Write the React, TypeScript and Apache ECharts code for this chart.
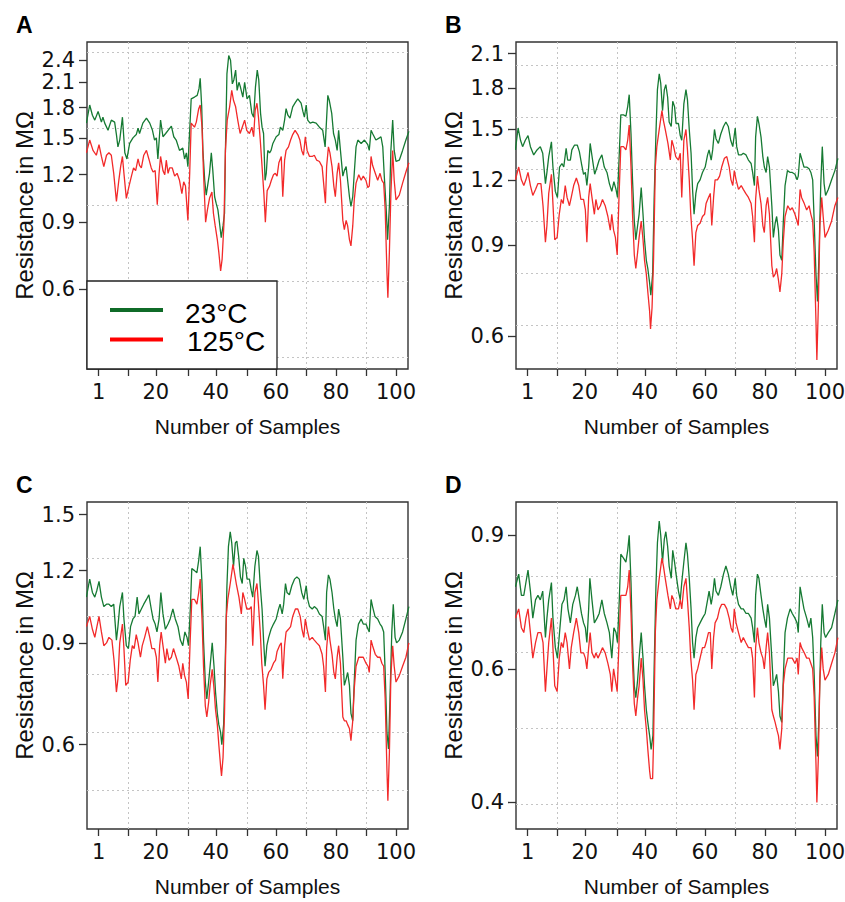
import React, { useEffect, useRef } from "react";
import * as echarts from "echarts";

// ---------- data (sample number, resistance in MΩ) ----------
const aGreen: [number, number][] = [[-3.1,1.64],[-2.0,1.83],[-1.1,1.72],[-0.3,1.67],[0.8,1.76],[1.9,1.65],[2.4,1.70],[3.0,1.64],[4.1,1.57],[5.2,1.67],[6.3,1.65],[6.9,1.53],[7.4,1.42],[8.0,1.48],[8.9,1.70],[9.7,1.37],[10.4,1.32],[11.3,1.45],[12.4,1.50],[13.5,1.53],[14.1,1.59],[14.6,1.54],[15.7,1.64],[16.9,1.69],[18.0,1.64],[18.9,1.57],[19.6,1.48],[20.2,1.50],[20.7,1.32],[21.6,1.67],[22.4,1.51],[23.3,1.54],[24.1,1.57],[25.2,1.61],[26.0,1.51],[26.8,1.48],[27.9,1.39],[29.0,1.41],[29.6,1.32],[30.2,1.37],[30.7,1.26],[31.3,1.57],[31.8,1.90],[32.9,1.92],[33.8,1.94],[34.4,2.02],[34.8,2.15],[35.3,1.81],[35.7,1.39],[36.3,1.16],[36.8,1.06],[37.4,1.14],[37.9,1.21],[38.5,1.37],[39.0,1.23],[39.6,1.05],[40.1,1.01],[40.7,0.97],[41.2,0.90],[41.8,0.82],[42.4,0.88],[42.9,0.95],[43.2,1.39],[43.7,2.21],[44.3,2.47],[44.9,2.40],[45.5,2.08],[46.0,2.13],[46.6,2.26],[47.1,2.00],[47.7,2.10],[48.2,2.04],[49.0,1.92],[49.6,2.10],[50.4,1.90],[51.2,1.94],[52.0,1.74],[52.6,1.70],[53.2,2.04],[53.8,2.26],[54.3,2.13],[54.9,1.74],[55.4,1.60],[55.9,1.54],[56.4,1.16],[56.8,1.21],[57.3,1.39],[57.9,1.37],[58.4,1.39],[59.0,1.45],[60.1,1.51],[61.0,1.53],[61.5,1.60],[62.3,1.57],[62.9,1.67],[63.4,1.79],[64.0,1.72],[64.7,1.69],[65.6,1.81],[66.5,1.86],[67.3,1.90],[68.4,1.85],[69.0,1.76],[69.5,1.70],[70.1,1.83],[70.6,1.67],[71.4,1.64],[72.3,1.65],[73.4,1.64],[74.5,1.60],[75.6,1.57],[76.4,1.42],[77.3,1.94],[77.8,1.88],[78.6,1.74],[79.2,1.54],[79.8,1.48],[80.4,1.39],[80.9,1.57],[81.5,1.39],[82.3,1.19],[82.8,1.23],[83.4,1.26],[83.9,1.16],[84.5,1.05],[85.0,0.99],[85.6,1.05],[86.1,1.21],[86.7,1.42],[87.3,1.48],[88.4,1.45],[89.5,1.48],[90.6,1.44],[91.1,1.39],[91.7,1.57],[92.2,1.54],[93.3,1.48],[94.5,1.50],[95.0,1.51],[95.6,1.42],[96.1,1.19],[96.7,0.99],[97.2,0.81],[97.8,0.99],[98.3,1.39],[98.9,1.67],[99.4,1.39],[100.0,1.30],[101.1,1.31],[102.2,1.39],[103.3,1.48],[104.3,1.56]];
const aRed: [number, number][] = [[-3.1,1.37],[-2.0,1.48],[-0.9,1.39],[0.2,1.35],[1.1,1.44],[1.9,1.34],[2.7,1.26],[3.6,1.35],[4.4,1.37],[5.2,1.35],[6.0,1.21],[6.9,1.02],[7.7,1.16],[8.3,1.26],[8.9,1.34],[9.4,1.21],[10.2,1.04],[11.1,1.12],[11.9,1.19],[12.6,1.25],[13.3,1.23],[14.1,1.32],[14.6,1.27],[15.2,1.25],[16.0,1.35],[16.9,1.39],[17.7,1.32],[18.5,1.25],[19.1,1.22],[19.8,1.23],[20.5,1.00],[21.1,1.21],[21.6,1.34],[22.4,1.23],[23.0,1.20],[23.5,1.31],[24.1,1.21],[24.6,1.25],[25.5,1.25],[26.3,1.19],[27.1,1.21],[27.9,1.16],[28.7,1.07],[29.3,1.15],[29.9,1.12],[30.7,0.91],[31.3,1.21],[31.8,1.64],[32.9,1.60],[33.5,1.65],[34.3,1.79],[34.8,1.83],[35.4,1.60],[35.9,1.21],[36.6,0.90],[37.2,0.97],[37.9,1.04],[38.7,1.08],[39.2,0.95],[39.8,0.88],[40.5,0.81],[41.0,0.75],[41.6,0.67],[42.1,0.72],[42.7,0.89],[43.2,1.39],[43.8,1.67],[44.6,1.81],[45.3,2.00],[45.9,1.88],[46.6,1.81],[47.3,1.67],[48.1,1.54],[48.8,1.60],[49.6,1.67],[50.3,1.57],[51.2,1.54],[52.0,1.60],[52.6,1.51],[53.1,1.77],[53.7,1.85],[54.2,1.70],[54.8,1.48],[55.4,1.26],[56.0,1.07],[56.5,0.90],[57.1,1.09],[57.9,1.12],[58.5,1.16],[59.2,1.20],[59.8,1.21],[60.4,1.19],[61.0,1.29],[61.8,1.34],[62.3,1.05],[62.9,1.31],[63.4,1.39],[64.2,1.42],[64.9,1.48],[65.6,1.53],[66.4,1.57],[67.3,1.53],[68.0,1.48],[68.6,1.39],[69.2,1.35],[69.8,1.51],[70.4,1.39],[71.2,1.34],[72.1,1.34],[72.8,1.35],[73.6,1.31],[74.5,1.30],[75.4,1.26],[75.9,1.14],[76.5,1.01],[76.9,1.26],[77.5,1.42],[78.0,1.37],[78.7,1.26],[79.3,1.12],[79.8,1.05],[80.4,1.21],[80.9,1.29],[81.5,1.16],[82.3,0.91],[82.8,0.86],[83.4,0.91],[83.9,0.88],[84.5,0.81],[85.0,0.78],[85.6,0.88],[86.1,1.03],[86.7,1.14],[87.6,1.20],[88.4,1.16],[89.1,1.19],[90.0,1.16],[90.6,1.11],[91.1,1.12],[91.7,1.34],[92.2,1.27],[93.1,1.21],[93.9,1.16],[94.7,1.21],[95.3,1.16],[95.9,1.14],[96.4,0.97],[97.0,0.66],[97.3,0.57],[97.8,0.75],[98.3,1.07],[98.9,1.39],[99.4,1.16],[100.0,1.03],[101.1,1.06],[102.2,1.14],[103.3,1.22],[104.3,1.29]];

const bGreen: [number, number][] = [[-3.1,1.37],[-2.2,1.51],[-1.4,1.43],[-0.7,1.39],[0.2,1.43],[1.1,1.46],[1.9,1.39],[3.0,1.34],[4.1,1.37],[5.2,1.39],[6.0,1.35],[6.9,1.18],[7.4,1.24],[8.0,1.33],[8.9,1.42],[9.4,1.27],[10.2,1.14],[10.9,1.11],[11.6,1.27],[12.4,1.29],[13.0,1.27],[13.8,1.38],[14.3,1.31],[15.2,1.31],[15.7,1.37],[16.6,1.40],[17.5,1.40],[18.2,1.36],[18.9,1.29],[19.6,1.23],[20.2,1.24],[20.7,1.17],[21.3,1.27],[21.8,1.41],[22.6,1.31],[23.3,1.23],[24.1,1.27],[24.8,1.31],[25.7,1.34],[26.5,1.27],[27.4,1.24],[28.2,1.18],[29.0,1.14],[29.7,1.19],[30.4,1.15],[30.9,1.11],[31.5,1.35],[32.0,1.60],[32.9,1.60],[33.7,1.59],[34.3,1.66],[34.8,1.75],[35.4,1.47],[35.9,1.20],[36.5,1.00],[37.0,0.92],[37.6,0.98],[38.1,1.03],[38.8,1.16],[39.4,1.03],[39.9,0.92],[40.5,0.84],[41.0,0.81],[41.6,0.76],[42.0,0.72],[42.6,0.79],[43.1,1.10],[43.7,1.47],[44.2,1.79],[44.8,1.92],[45.3,1.84],[45.9,1.63],[46.5,1.79],[47.0,1.83],[47.6,1.73],[48.1,1.55],[48.8,1.52],[49.3,1.70],[49.9,1.66],[50.4,1.54],[51.2,1.54],[51.8,1.46],[52.3,1.43],[53.0,1.68],[53.7,1.79],[54.2,1.71],[54.8,1.50],[55.4,1.35],[55.9,1.15],[56.4,1.03],[57.0,1.13],[57.6,1.18],[58.4,1.20],[59.2,1.24],[60.1,1.27],[60.9,1.34],[61.4,1.37],[62.1,1.31],[62.6,1.37],[63.2,1.50],[63.7,1.44],[64.5,1.41],[65.3,1.47],[66.2,1.52],[67.0,1.55],[67.8,1.52],[68.6,1.43],[69.3,1.39],[70.1,1.51],[70.6,1.39],[71.2,1.34],[72.1,1.34],[72.8,1.35],[73.7,1.34],[74.5,1.31],[75.4,1.29],[75.9,1.24],[76.5,1.17],[76.9,1.45],[77.5,1.59],[78.0,1.54],[78.7,1.45],[79.3,1.33],[79.8,1.27],[80.4,1.24],[80.9,1.33],[81.5,1.27],[82.3,1.07],[82.8,0.93],[83.4,0.99],[83.9,1.02],[84.5,0.96],[85.0,0.86],[85.6,0.84],[86.1,0.99],[86.7,1.17],[87.5,1.25],[88.4,1.24],[89.1,1.24],[90.0,1.23],[90.7,1.20],[91.1,1.22],[91.7,1.35],[92.2,1.32],[93.0,1.27],[93.9,1.27],[94.7,1.26],[95.3,1.24],[95.9,1.20],[96.4,1.00],[97.0,0.79],[97.5,0.70],[98.0,0.86],[98.6,1.18],[99.1,1.39],[99.7,1.18],[100.2,1.12],[101.1,1.15],[102.2,1.20],[103.3,1.25],[104.3,1.32]];
const bRed: [number, number][] = [[-3.1,1.20],[-2.0,1.27],[-1.1,1.20],[-0.3,1.17],[0.4,1.20],[1.1,1.24],[1.9,1.17],[2.7,1.12],[3.6,1.15],[4.4,1.18],[5.4,1.18],[6.1,1.07],[6.9,0.91],[7.4,0.98],[8.0,1.13],[8.9,1.23],[9.4,1.08],[10.0,0.92],[10.8,0.93],[11.5,1.03],[12.2,1.10],[12.8,1.08],[13.5,1.17],[14.1,1.11],[14.9,1.07],[15.5,1.11],[16.3,1.17],[17.2,1.21],[18.0,1.17],[18.7,1.10],[19.6,1.10],[20.2,1.05],[20.7,0.91],[21.3,1.11],[21.8,1.18],[22.4,1.11],[23.2,1.03],[23.7,1.10],[24.4,1.05],[25.2,1.07],[25.9,1.10],[26.8,1.07],[27.7,1.02],[28.5,0.96],[29.0,1.03],[29.6,0.96],[30.2,0.93],[30.8,0.86],[31.4,1.11],[32.0,1.39],[32.9,1.39],[33.7,1.37],[34.3,1.43],[34.8,1.53],[35.4,1.27],[35.9,1.03],[36.5,0.86],[37.0,0.81],[37.6,0.87],[38.1,0.93],[38.8,1.00],[39.4,0.92],[39.9,0.84],[40.5,0.79],[41.0,0.73],[41.6,0.67],[41.9,0.62],[42.4,0.68],[42.9,0.84],[43.5,1.27],[44.0,1.39],[44.8,1.50],[45.7,1.63],[46.2,1.56],[46.8,1.50],[47.7,1.41],[48.5,1.31],[49.0,1.43],[49.6,1.39],[50.3,1.33],[51.2,1.31],[51.8,1.35],[52.3,1.11],[53.0,1.43],[53.7,1.50],[54.2,1.37],[54.8,1.20],[55.3,1.03],[55.9,0.92],[56.4,0.82],[57.0,0.95],[57.6,0.98],[58.4,0.99],[59.2,1.02],[59.9,1.03],[60.4,1.08],[61.2,1.11],[61.8,1.13],[62.3,0.98],[62.9,1.11],[63.4,1.20],[64.2,1.20],[64.9,1.22],[65.6,1.27],[66.5,1.32],[67.3,1.33],[68.1,1.27],[68.7,1.20],[69.3,1.17],[69.8,1.25],[70.4,1.20],[71.2,1.15],[72.1,1.17],[72.8,1.15],[73.6,1.13],[74.5,1.11],[75.4,1.08],[75.9,1.02],[76.5,0.91],[76.9,1.10],[77.5,1.22],[78.0,1.15],[78.7,1.08],[79.3,0.98],[79.8,0.95],[80.4,1.07],[80.9,1.11],[81.5,1.03],[82.3,0.82],[82.8,0.78],[83.4,0.79],[83.9,0.81],[84.5,0.77],[85.0,0.73],[85.6,0.79],[86.1,0.91],[86.7,1.02],[87.6,1.07],[88.4,1.05],[89.1,1.06],[90.0,1.03],[90.7,1.00],[91.1,0.98],[91.7,1.15],[92.2,1.11],[93.1,1.08],[93.9,1.05],[94.7,1.07],[95.3,1.03],[95.9,1.00],[96.4,0.87],[97.0,0.64],[97.3,0.54],[97.8,0.69],[98.3,0.98],[98.9,1.11],[99.4,1.02],[100.0,0.93],[101.1,0.96],[102.2,1.00],[103.3,1.07],[104.3,1.11]];

const cGreen: [number, number][] = [[-3.1,1.08],[-2.0,1.16],[-1.1,1.10],[-0.3,1.08],[0.4,1.11],[1.1,1.15],[1.9,1.08],[2.7,1.04],[3.6,1.05],[4.4,1.05],[5.2,1.04],[6.0,1.05],[6.9,0.91],[7.4,0.96],[8.0,1.04],[8.9,1.10],[9.4,0.99],[10.2,0.89],[10.9,0.88],[11.6,0.96],[12.4,0.99],[13.1,1.00],[13.8,1.08],[14.4,1.01],[15.2,1.03],[16.0,1.05],[16.9,1.07],[17.7,1.09],[18.5,1.03],[19.1,0.99],[19.8,0.97],[20.4,0.94],[21.1,0.99],[21.7,1.10],[22.4,1.01],[23.2,0.95],[24.1,0.97],[24.8,0.99],[25.7,1.03],[26.5,0.99],[27.4,0.96],[28.2,0.91],[29.0,0.89],[29.7,0.94],[30.4,0.92],[30.9,0.89],[31.5,1.03],[32.0,1.21],[32.9,1.20],[33.7,1.19],[34.3,1.25],[34.8,1.32],[35.4,1.14],[35.9,0.91],[36.5,0.77],[37.0,0.72],[37.6,0.77],[38.1,0.82],[38.8,0.90],[39.4,0.82],[39.9,0.74],[40.5,0.68],[41.0,0.65],[41.6,0.63],[42.0,0.60],[42.6,0.65],[43.1,0.82],[43.7,1.13],[44.2,1.32],[44.8,1.40],[45.3,1.34],[45.9,1.22],[46.5,1.34],[47.0,1.35],[47.6,1.27],[48.2,1.17],[48.8,1.14],[49.3,1.26],[49.9,1.22],[50.4,1.16],[51.2,1.16],[51.8,1.11],[52.3,1.08],[53.0,1.22],[53.7,1.30],[54.2,1.27],[54.8,1.13],[55.4,1.03],[55.9,0.91],[56.4,0.82],[57.0,0.89],[57.6,0.92],[58.4,0.95],[59.2,0.97],[60.1,0.99],[60.9,1.03],[61.4,1.05],[62.1,1.01],[62.6,1.05],[63.2,1.14],[63.7,1.10],[64.5,1.09],[65.3,1.13],[66.2,1.16],[67.0,1.17],[67.8,1.16],[68.6,1.10],[69.3,1.07],[70.1,1.13],[70.6,1.07],[71.2,1.04],[72.1,1.03],[72.8,1.04],[73.7,1.03],[74.5,1.01],[75.4,1.00],[75.9,0.96],[76.5,0.91],[76.9,1.10],[77.5,1.18],[78.0,1.16],[78.7,1.10],[79.3,1.03],[79.8,0.99],[80.4,0.96],[80.9,1.03],[81.5,0.99],[82.3,0.85],[82.8,0.76],[83.4,0.78],[83.9,0.80],[84.5,0.76],[85.0,0.68],[85.6,0.66],[86.1,0.77],[86.7,0.91],[87.5,0.97],[88.4,0.99],[89.1,0.97],[90.0,0.97],[90.7,0.95],[91.1,0.94],[91.7,1.07],[92.2,1.04],[93.0,1.00],[93.9,0.99],[94.7,0.97],[95.3,0.96],[95.9,0.94],[96.4,0.80],[97.0,0.63],[97.5,0.59],[98.0,0.72],[98.6,0.94],[99.1,1.05],[99.7,0.92],[100.2,0.90],[101.1,0.91],[102.2,0.94],[103.3,0.99],[104.3,1.04]];
const cRed: [number, number][] = [[-3.1,0.96],[-2.0,1.00],[-1.1,0.95],[-0.3,0.92],[0.4,0.96],[1.1,1.00],[1.9,0.94],[2.7,0.89],[3.6,0.90],[4.4,0.92],[5.4,0.91],[6.1,0.84],[6.9,0.74],[7.4,0.78],[8.0,0.90],[8.9,0.97],[9.4,0.88],[10.0,0.76],[10.8,0.77],[11.5,0.84],[12.2,0.89],[12.8,0.88],[13.5,0.93],[14.1,0.90],[14.9,0.85],[15.5,0.89],[16.3,0.92],[17.2,0.96],[18.0,0.92],[18.7,0.88],[19.6,0.88],[20.2,0.85],[20.7,0.77],[21.3,0.89],[21.8,0.94],[22.4,0.89],[23.2,0.83],[23.7,0.88],[24.4,0.84],[25.2,0.85],[25.9,0.88],[26.8,0.85],[27.7,0.82],[28.5,0.78],[29.0,0.83],[29.6,0.79],[30.2,0.77],[30.8,0.72],[31.4,0.89],[32.0,1.07],[32.9,1.07],[33.7,1.05],[34.3,1.10],[34.8,1.16],[35.4,0.99],[35.9,0.82],[36.5,0.70],[37.0,0.67],[37.6,0.71],[38.1,0.76],[38.8,0.81],[39.4,0.75],[39.9,0.69],[40.5,0.65],[41.0,0.60],[41.6,0.55],[41.9,0.53],[42.4,0.57],[42.9,0.68],[43.5,1.00],[44.0,1.07],[44.8,1.14],[45.7,1.23],[46.2,1.19],[46.8,1.14],[47.7,1.08],[48.5,1.01],[49.0,1.10],[49.6,1.07],[50.3,1.03],[51.2,1.03],[51.8,1.04],[52.3,0.89],[53.0,1.10],[53.7,1.14],[54.2,1.05],[54.8,0.94],[55.3,0.83],[55.9,0.76],[56.4,0.69],[57.0,0.78],[57.6,0.80],[58.4,0.81],[59.2,0.83],[59.9,0.84],[60.4,0.87],[61.2,0.89],[61.8,0.90],[62.3,0.78],[62.9,0.89],[63.4,0.94],[64.2,0.95],[64.9,0.96],[65.6,1.00],[66.5,1.03],[67.3,1.03],[68.1,1.00],[68.7,0.95],[69.3,0.92],[69.8,0.99],[70.4,0.95],[71.2,0.91],[72.1,0.92],[72.8,0.91],[73.6,0.90],[74.5,0.89],[75.4,0.86],[75.9,0.82],[76.5,0.74],[76.9,0.88],[77.5,0.96],[78.0,0.91],[78.7,0.86],[79.3,0.80],[79.8,0.78],[80.4,0.85],[80.9,0.89],[81.5,0.83],[82.3,0.67],[82.8,0.66],[83.4,0.66],[83.9,0.65],[84.5,0.64],[85.0,0.61],[85.6,0.66],[86.1,0.75],[86.7,0.82],[87.6,0.85],[88.4,0.85],[89.1,0.85],[90.0,0.83],[90.7,0.82],[91.1,0.80],[91.7,0.91],[92.2,0.89],[93.1,0.86],[93.9,0.85],[94.7,0.85],[95.3,0.83],[95.9,0.82],[96.4,0.72],[97.0,0.54],[97.3,0.48],[97.8,0.58],[98.3,0.79],[98.9,0.89],[99.4,0.82],[100.0,0.77],[101.1,0.79],[102.2,0.82],[103.3,0.85],[104.3,0.90]];

const dGreen: [number, number][] = [[-3.1,0.77],[-2.0,0.80],[-1.1,0.75],[-0.3,0.75],[0.4,0.78],[1.1,0.81],[1.9,0.76],[2.7,0.70],[3.6,0.74],[4.4,0.75],[5.2,0.74],[6.0,0.76],[6.9,0.66],[7.4,0.70],[8.0,0.74],[8.9,0.78],[9.4,0.70],[10.2,0.64],[10.9,0.62],[11.6,0.67],[12.4,0.73],[13.1,0.74],[13.8,0.77],[14.4,0.72],[15.2,0.69],[16.0,0.73],[16.9,0.75],[17.5,0.77],[18.2,0.74],[18.9,0.71],[19.6,0.69],[20.2,0.68],[20.7,0.65],[21.3,0.72],[21.7,0.79],[22.4,0.74],[23.2,0.69],[24.1,0.70],[24.8,0.71],[25.7,0.74],[26.5,0.71],[27.4,0.69],[28.2,0.67],[29.0,0.62],[29.7,0.68],[30.4,0.67],[30.9,0.65],[31.5,0.74],[32.0,0.85],[32.9,0.84],[33.7,0.83],[34.3,0.86],[34.8,0.90],[35.4,0.78],[35.9,0.65],[36.5,0.57],[37.0,0.55],[37.6,0.58],[38.1,0.62],[38.8,0.67],[39.4,0.62],[39.9,0.57],[40.5,0.53],[41.0,0.51],[41.6,0.49],[42.1,0.47],[42.7,0.49],[43.1,0.60],[43.7,0.77],[44.2,0.88],[44.8,0.94],[45.3,0.90],[45.9,0.83],[46.5,0.89],[47.0,0.91],[47.6,0.87],[48.1,0.82],[48.8,0.79],[49.3,0.86],[49.9,0.83],[50.4,0.80],[51.2,0.76],[51.8,0.74],[52.3,0.78],[53.0,0.83],[53.7,0.88],[54.2,0.85],[54.8,0.79],[55.4,0.72],[55.9,0.65],[56.4,0.62],[57.0,0.66],[57.6,0.68],[58.4,0.69],[59.2,0.70],[60.1,0.71],[60.9,0.74],[61.4,0.76],[62.1,0.73],[62.6,0.75],[63.2,0.79],[63.7,0.76],[64.5,0.75],[65.3,0.77],[66.2,0.80],[67.0,0.82],[67.8,0.80],[68.6,0.77],[69.3,0.75],[70.1,0.79],[70.6,0.75],[71.2,0.73],[72.1,0.72],[72.8,0.72],[73.7,0.71],[74.5,0.71],[75.4,0.70],[75.9,0.68],[76.5,0.65],[76.9,0.75],[77.5,0.80],[78.0,0.79],[78.7,0.75],[79.3,0.72],[79.8,0.70],[80.4,0.68],[80.9,0.73],[81.5,0.70],[82.3,0.62],[82.8,0.57],[83.4,0.58],[83.9,0.59],[84.5,0.56],[85.0,0.52],[85.6,0.51],[86.1,0.58],[86.7,0.67],[87.5,0.70],[88.4,0.72],[89.1,0.71],[90.0,0.70],[90.7,0.69],[91.1,0.67],[91.7,0.77],[92.2,0.75],[93.0,0.72],[93.9,0.70],[94.7,0.68],[95.3,0.70],[95.9,0.66],[96.4,0.59],[97.0,0.49],[97.5,0.46],[98.0,0.52],[98.6,0.65],[99.1,0.73],[99.7,0.67],[100.2,0.66],[101.1,0.67],[102.2,0.68],[103.3,0.71],[104.3,0.74]];
const dRed: [number, number][] = [[-3.1,0.70],[-2.0,0.72],[-1.1,0.68],[-0.3,0.67],[0.4,0.70],[1.1,0.72],[1.9,0.67],[2.7,0.62],[3.6,0.65],[4.4,0.67],[5.4,0.67],[6.1,0.65],[6.9,0.56],[7.4,0.60],[8.0,0.65],[8.9,0.70],[9.4,0.64],[10.0,0.57],[10.8,0.56],[11.5,0.62],[12.2,0.65],[12.8,0.64],[13.5,0.67],[14.1,0.65],[14.9,0.60],[15.5,0.64],[16.3,0.67],[17.2,0.70],[18.0,0.67],[18.7,0.63],[19.6,0.63],[20.2,0.62],[20.7,0.60],[21.3,0.64],[21.8,0.67],[22.4,0.63],[23.2,0.62],[23.7,0.63],[24.4,0.62],[25.2,0.63],[25.9,0.64],[26.8,0.63],[27.7,0.61],[28.5,0.59],[29.0,0.56],[29.6,0.60],[30.2,0.58],[30.8,0.56],[31.4,0.65],[32.0,0.75],[32.9,0.75],[33.7,0.75],[34.3,0.77],[34.8,0.81],[35.4,0.71],[35.9,0.61],[36.5,0.54],[37.0,0.52],[37.6,0.55],[38.1,0.57],[38.8,0.62],[39.4,0.58],[39.9,0.53],[40.5,0.50],[41.0,0.47],[41.6,0.44],[41.9,0.43],[42.6,0.43],[42.9,0.48],[43.5,0.67],[44.0,0.74],[44.8,0.79],[45.7,0.84],[46.2,0.82],[46.8,0.79],[47.7,0.75],[48.5,0.72],[49.0,0.75],[49.6,0.74],[50.3,0.72],[51.2,0.72],[51.8,0.74],[52.3,0.72],[53.0,0.77],[53.7,0.79],[54.2,0.74],[54.8,0.68],[55.3,0.62],[55.9,0.58],[56.4,0.53],[57.0,0.59],[57.6,0.60],[58.4,0.62],[59.2,0.64],[59.9,0.64],[60.4,0.65],[61.2,0.67],[61.8,0.67],[62.3,0.60],[62.9,0.66],[63.4,0.69],[64.2,0.70],[64.9,0.72],[65.6,0.73],[66.5,0.73],[67.3,0.72],[68.1,0.70],[68.7,0.68],[69.3,0.67],[69.8,0.72],[70.4,0.69],[71.2,0.67],[72.1,0.65],[72.8,0.66],[73.6,0.65],[74.5,0.64],[75.4,0.64],[75.9,0.62],[76.5,0.55],[76.9,0.64],[77.5,0.68],[78.0,0.65],[78.7,0.63],[79.3,0.62],[79.8,0.60],[80.4,0.64],[80.9,0.67],[81.5,0.63],[82.3,0.53],[82.8,0.52],[83.4,0.51],[83.9,0.50],[84.5,0.49],[85.0,0.47],[85.6,0.50],[86.1,0.57],[86.7,0.60],[87.6,0.62],[88.4,0.62],[89.1,0.62],[90.0,0.61],[90.7,0.62],[91.1,0.59],[91.7,0.65],[92.2,0.64],[93.1,0.63],[93.9,0.62],[94.7,0.62],[95.3,0.61],[95.9,0.60],[96.4,0.55],[97.0,0.45],[97.3,0.40],[97.8,0.46],[98.3,0.58],[98.9,0.64],[99.4,0.60],[100.0,0.58],[101.1,0.59],[102.2,0.61],[103.3,0.63],[104.3,0.66]];

// ---------- axes ----------
const xLabelTicks = [1, 20, 40, 60, 80, 100];
const xMinorTicks = [11, 30.75, 50.5, 70.25, 90];
const xRange = [-2.9, 104];

const yTicksA = [0.6, 0.9, 1.2, 1.5, 1.8, 2.1, 2.4];
const yTicksB = [0.6, 0.9, 1.2, 1.5, 1.8, 2.1];
const yTicksC = [0.6, 0.9, 1.2, 1.5];
const yTicksD = [0.4, 0.6, 0.9];

const yGridA = [0.398, 0.631, 1.0, 1.585, 2.512];
const yGridB = [0.631, 0.794, 1.0, 1.259, 1.585, 1.995];
const yGridC = [0.501, 0.631, 0.794, 1.0, 1.259];
const yGridD = [0.398, 0.501, 0.631, 0.794];

const yRangeA = [0.37, 2.68];
const yRangeB = [0.519, 2.21];
const yRangeC = [0.429, 1.577];
const yRangeD = [0.369, 0.996];

const panelLetters = ["A", "B", "C", "D"];
const seriesNames = ["23°C", "125°C"];
const xTitle = "Number of Samples";
const yTitle = "Resistance in MΩ";

const FONT = "'Liberation Sans', Arial, Helvetica, sans-serif";
const TICKFONT = "'DejaVu Sans', 'Liberation Sans', Arial, sans-serif";
const GREEN = "#167a33";
const RED = "#f22a2a";
const GRIDC = "#c4c4c4";

const L = (v: number) => Math.log10(v);

export default function App() {
  const ref = useRef<HTMLDivElement>(null);
  useEffect(() => {
    const chart = echarts.init(ref.current!, null, { renderer: "svg" });
    const panels = [
      { green: aGreen, red: aRed, ticks: yTicksA, grid: yGridA, range: yRangeA, left: 87, top: 42 },
      { green: bGreen, red: bRed, ticks: yTicksB, grid: yGridB, range: yRangeB, left: 516, top: 42 },
      { green: cGreen, red: cRed, ticks: yTicksC, grid: yGridC, range: yRangeC, left: 87, top: 502 },
      { green: dGreen, red: dRed, ticks: yTicksD, grid: yGridD, range: yRangeD, left: 516, top: 502 },
    ];
    const W = 321, H = 327;
    const xTickAll = [...xLabelTicks, ...xMinorTicks].sort((a, b) => a - b);
    const dotted = { color: GRIDC, width: 1, type: [2, 3] as number[] };
    const grids: any[] = [], xAxes: any[] = [], yAxes: any[] = [], series: any[] = [], graphics: any[] = [];
    panels.forEach((p, i) => {
      grids.push({ left: p.left, top: p.top, width: W, height: H, show: true, borderColor: "#333", borderWidth: 1.4, backgroundColor: "transparent", containLabel: false, outerBoundsMode: "none" });
      xAxes.push({
        type: "value", gridIndex: i, min: xRange[0], max: xRange[1], position: "bottom",
        axisLine: { show: false, onZero: false },
        axisTick: { show: true, length: 7, customValues: xTickAll, lineStyle: { color: "#333", width: 1.3 } },
        axisLabel: { customValues: xLabelTicks, fontSize: 21, color: "#111", margin: 12, fontFamily: TICKFONT },
        splitLine: { show: false },
        name: xTitle, nameLocation: "middle", nameGap: 47,
        nameTextStyle: { fontSize: 21, color: "#111", fontFamily: FONT },
      });
      xAxes.push({
        type: "value", gridIndex: i, min: xRange[0], max: xRange[1], position: "bottom",
        axisLine: { show: false, onZero: false },
        axisTick: { show: false, customValues: xMinorTicks },
        axisLabel: { show: false },
        splitLine: { show: true, lineStyle: dotted },
      });
      yAxes.push({
        type: "value", gridIndex: i, min: L(p.range[0]), max: L(p.range[1]), position: "left",
        axisLine: { show: false, onZero: false },
        axisTick: { show: true, length: 8, customValues: p.ticks.map(L), lineStyle: { color: "#333", width: 1.3 } },
        axisLabel: {
          customValues: p.ticks.map(L), fontSize: 21, color: "#111", margin: 12, fontFamily: TICKFONT,
          formatter: (v: number) => Math.pow(10, v).toFixed(1),
        },
        splitLine: { show: false },
        name: yTitle, nameLocation: "middle", nameGap: 51,
        nameTextStyle: { fontSize: 24, color: "#111", fontFamily: FONT },
      });
      yAxes.push({
        type: "value", gridIndex: i, min: L(p.range[0]), max: L(p.range[1]), position: "left",
        axisLine: { show: false, onZero: false },
        axisTick: { show: false, customValues: p.grid.map(L) },
        axisLabel: { show: false },
        splitLine: { show: true, lineStyle: dotted },
      });
      [[p.green, GREEN, seriesNames[0]], [p.red, RED, seriesNames[1]]].forEach(([data, color, name]: any) => {
        series.push({
          type: "line", name, xAxisIndex: 2 * i, yAxisIndex: 2 * i,
          data: (data as [number, number][]).map(([s, v]) => [s, L(v)]),
          symbol: "none", showSymbol: false, silent: true, clip: true,
          lineStyle: { color, width: 1.3 }, itemStyle: { color }, z: 3,
        });
      });
      graphics.push({
        type: "text", left: p.left - 71, top: p.top - 29, z: 100,
        style: { text: panelLetters[i], fontSize: 23, fontWeight: "bold", fill: "#000", fontFamily: FONT },
      });
    });
    // legend in panel A
    graphics.push({ type: "rect", z: 100, shape: { x: 87, y: 281, width: 190, height: 88 }, style: { fill: "#fff", stroke: "#222", lineWidth: 1.3 } });
    graphics.push({ type: "line", z: 101, shape: { x1: 110, y1: 310, x2: 163, y2: 310 }, style: { stroke: "#0f6b28", lineWidth: 4 } });
    graphics.push({ type: "line", z: 101, shape: { x1: 110, y1: 339.5, x2: 163, y2: 339.5 }, style: { stroke: "#ff0000", lineWidth: 4 } });
    graphics.push({ type: "text", z: 101, x: 185, y: 313, style: { text: seriesNames[0], fontSize: 28, lineHeight: 27, fill: "#000", fontFamily: FONT, verticalAlign: "middle" } });
    graphics.push({ type: "text", z: 101, x: 187, y: 341, style: { text: seriesNames[1], fontSize: 28, lineHeight: 27, fill: "#000", fontFamily: FONT, verticalAlign: "middle" } });

    chart.setOption({
      animation: false,
      backgroundColor: "#fff",
      textStyle: { fontFamily: FONT },
      grid: grids,
      xAxis: xAxes,
      yAxis: yAxes,
      series,
      graphic: graphics,
    });
    return () => chart.dispose();
  }, []);
  return <div ref={ref} style={{ position: "absolute", left: 0, top: 0, width: 845, height: 902, background: "#fff" }} />;
}
